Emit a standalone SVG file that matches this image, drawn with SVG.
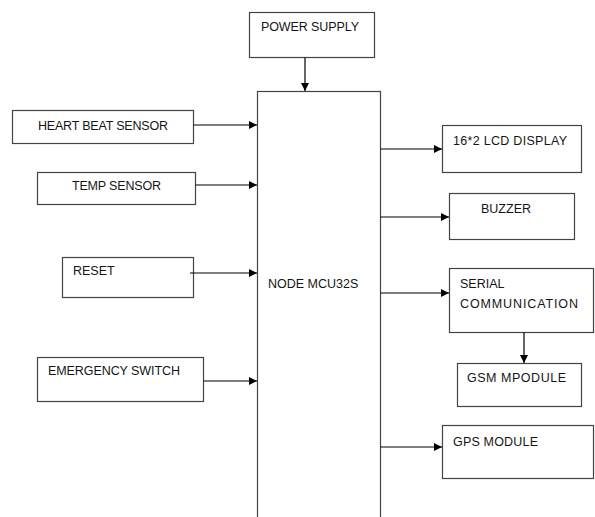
<svg xmlns="http://www.w3.org/2000/svg" width="595" height="517" viewBox="0 0 595 517">
<style>
.box{fill:#fff;stroke:#444;stroke-width:1.2}
.lbl{font-family:"Liberation Sans",Arial,sans-serif;font-size:12.5px;fill:#151515}
.con{stroke:#000;stroke-width:1.2;fill:none}
</style>
<defs>
<marker id="ah" markerUnits="userSpaceOnUse" markerWidth="9" markerHeight="8" refX="8" refY="4" orient="auto">
<path d="M0,0 L8,4 L0,8 Z" fill="#000"/>
</marker>
</defs>
<rect width="595" height="517" fill="#fff"/>
<g id="power"><rect class="box" x="249.5" y="12.5" width="125" height="45"/><text class="lbl" x="261" y="31" textLength="98" lengthAdjust="spacing">POWER SUPPLY</text></g>
<g id="mcu"><rect class="box" x="257.5" y="91.5" width="123" height="440"/><text class="lbl" x="268" y="288">NODE MCU32S</text></g>
<g id="heart"><rect class="box" x="12.5" y="110.5" width="181" height="33"/><text class="lbl" x="38" y="129.5" textLength="130" lengthAdjust="spacing">HEART BEAT SENSOR</text></g>
<g id="temp"><rect class="box" x="37.5" y="172.5" width="158" height="32"/><text class="lbl" x="72" y="190" textLength="89" lengthAdjust="spacing">TEMP SENSOR</text></g>
<g id="reset"><rect class="box" x="62.5" y="257.5" width="131" height="40"/><text class="lbl" x="73" y="275" font-size="12">RESET</text></g>
<g id="emergency"><rect class="box" x="37.5" y="357.5" width="166" height="44"/><text class="lbl" x="48" y="375" textLength="132" lengthAdjust="spacing">EMERGENCY SWITCH</text></g>
<g id="lcd"><rect class="box" x="442.5" y="125.5" width="139" height="47"/><text class="lbl" x="453" y="145" textLength="114" lengthAdjust="spacing">16*2 LCD DISPLAY</text></g>
<g id="buzzer"><rect class="box" x="449.5" y="193.5" width="125" height="46"/><text class="lbl" x="481" y="213">BUZZER</text></g>
<g id="serial"><rect class="box" x="449.5" y="268.5" width="144" height="64"/><text class="lbl" x="460" y="288">SERIAL</text><text class="lbl" x="460" y="308" textLength="118" lengthAdjust="spacing">COMMUNICATION</text></g>
<g id="gsm"><rect class="box" x="457.5" y="363.5" width="124" height="43"/><text class="lbl" x="467" y="382" textLength="99" lengthAdjust="spacing">GSM MPODULE</text></g>
<g id="gps"><rect class="box" x="442.5" y="425.5" width="151" height="53"/><text class="lbl" x="453" y="446" textLength="85" lengthAdjust="spacing">GPS MODULE</text></g>
<g id="connectors">
<line class="con" x1="305" y1="57.5" x2="305" y2="91" marker-end="url(#ah)"/>
<line class="con" x1="193.5" y1="125" x2="257" y2="125" marker-end="url(#ah)"/>
<line class="con" x1="195.5" y1="185" x2="257" y2="185" marker-end="url(#ah)"/>
<line class="con" x1="190" y1="273" x2="257" y2="273" marker-end="url(#ah)"/>
<line class="con" x1="203.5" y1="381" x2="257" y2="381" marker-end="url(#ah)"/>
<line class="con" x1="380.5" y1="149" x2="442" y2="149" marker-end="url(#ah)"/>
<line class="con" x1="380.5" y1="217" x2="449" y2="217" marker-end="url(#ah)"/>
<line class="con" x1="380.5" y1="293" x2="449" y2="293" marker-end="url(#ah)"/>
<line class="con" x1="524" y1="332.5" x2="524" y2="363" marker-end="url(#ah)"/>
<line class="con" x1="380.5" y1="447" x2="442" y2="447" marker-end="url(#ah)"/>
</g>
</svg>
